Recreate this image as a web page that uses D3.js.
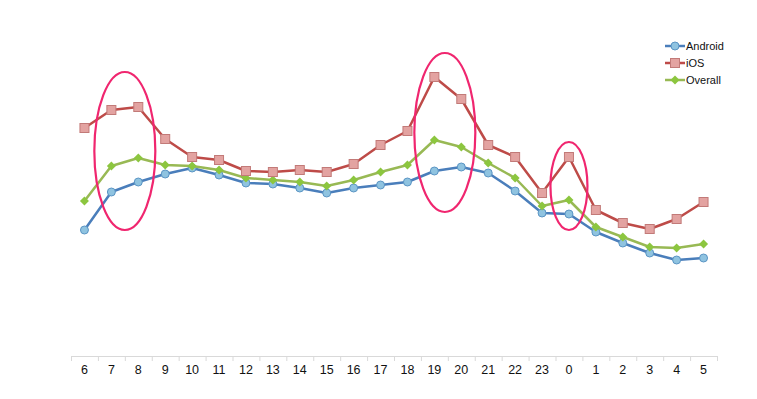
<!DOCTYPE html>
<html>
<head>
<meta charset="utf-8">
<script src="https://cdn.jsdelivr.net/npm/d3@7"></script>
<style>
  body { margin: 0; background: #fff; }
  svg { font-family: "Liberation Sans", Arial, sans-serif; }
</style>
</head>
<body>
<div id="canvas"></div>
<script>
// hours of the day, starting at 6
const hours = ["6","7","8","9","10","11","12","13","14","15","16","17","18","19","20","21","22","23","0","1","2","3","4","5"];

// values (arbitrary units)
const android = [126, 164, 174, 182, 188, 181, 173, 172, 168, 163, 168, 171, 174, 185, 189, 183, 165, 143, 142, 124, 113, 103, 96, 98];
const ios     = [228, 246, 249, 217, 199, 196, 185, 184, 186, 184, 192, 211, 225, 279, 257, 211, 199, 163, 199, 146, 133, 127, 137, 154];
const overall = [155, 190, 198, 191, 190, 186, 178, 176, 174, 170, 176, 184, 191, 216, 209, 193, 178, 150, 156, 129, 119, 109, 108, 112];

const seriesNames = ["Android", "iOS", "Overall"];

// highlighted ranges: [first hour, last hour, low value, high value]
const highlights = [
  ["7", "8", 126, 284],
  ["19", "20", 144, 303],
  ["0", "0", 126, 214]
];

const width = 757;
const height = 399;
const margin = { top: 56, left: 71, bottom: 43, right: 40 };
const iwidth = width - margin.left - margin.right;
const iheight = height - margin.top - margin.bottom;

const svg = d3.select("#canvas").append("svg")
    .attr("width", width)
    .attr("height", height);

const g = svg.append("g").attr("transform", `translate(${margin.left},${margin.top})`);

const x = d3.scaleBand()
    .domain(hours)
    .range([0, 646]);

const y = d3.scaleLinear()
    .domain([0, 300])
    .range([iheight, 0]);

const cx = d => x(d) + x.bandwidth() / 2;

// x axis
const xAxis = g.append("g")
    .attr("transform", `translate(0, ${iheight})`)
    .call(d3.axisBottom(x).tickSize(0).tickPadding(9));
xAxis.select(".domain").attr("stroke", "#d9d9d9");
xAxis.selectAll("text").attr("font-size", 12.5).attr("fill", "#111");

// tick marks between categories
g.append("g").selectAll("line")
    .data(hours.concat(["end"]))
    .enter().append("line")
    .attr("x1", (d, i) => i * x.step() + 0.5)
    .attr("x2", (d, i) => i * x.step() + 0.5)
    .attr("y1", iheight)
    .attr("y2", iheight + 5)
    .attr("stroke", "#d9d9d9");

const styles = {
  Android: { line: "#4a7ebb", fill: "#8fc3e0", stroke: "#5b95c4", shape: "circle" },
  iOS:     { line: "#be4b48", fill: "#e3a3a1", stroke: "#c27a78", shape: "square" },
  Overall: { line: "#98b954", fill: "#8cc63f", stroke: "#8cc63f", shape: "diamond" }
};

const data = [android, ios, overall];

const line = d3.line()
    .x((d, i) => cx(hours[i]))
    .y(d => y(d));

function marker(sel, name) {
  const s = styles[name];
  if (s.shape === "circle") {
    sel.append("circle").attr("r", 4)
      .attr("fill", s.fill).attr("stroke", s.stroke).attr("stroke-width", 1);
  } else if (s.shape === "square") {
    sel.append("rect").attr("x", -4.5).attr("y", -4.5).attr("width", 9).attr("height", 9)
      .attr("fill", s.fill).attr("stroke", s.stroke).attr("stroke-width", 1);
  } else {
    sel.append("path").attr("d", "M0,-4.5L4.5,0L0,4.5L-4.5,0Z")
      .attr("fill", s.fill);
  }
}

// draw Android first, then Overall, then iOS on top
[0, 2, 1].forEach(k => {
  const name = seriesNames[k];
  g.append("path")
    .datum(data[k])
    .attr("fill", "none")
    .attr("stroke", styles[name].line)
    .attr("stroke-width", 2.5)
    .attr("stroke-linejoin", "round")
    .attr("d", line);
  g.append("g").selectAll("g")
    .data(data[k])
    .enter().append("g")
    .attr("transform", (d, i) => `translate(${cx(hours[i])},${y(d)})`)
    .each(function () { marker(d3.select(this), name); });
});

// highlight ellipses
g.append("g").selectAll("ellipse")
  .data(highlights)
  .enter().append("ellipse")
  .attr("cx", d => (cx(d[0]) + cx(d[1])) / 2 + (d[0] === "19" ? -3 : 0))
  .attr("cy", d => (y(d[2]) + y(d[3])) / 2)
  .attr("rx", d => d[0] === d[1] ? 18.5 : 30.5)
  .attr("ry", d => (y(d[2]) - y(d[3])) / 2)
  .attr("fill", "none")
  .attr("stroke", "#f0266f")
  .attr("stroke-width", 2.2);

// legend
const legend = svg.append("g").attr("transform", "translate(665, 46)");
seriesNames.forEach((name, i) => {
  const row = legend.append("g").attr("transform", `translate(0, ${i * 17})`);
  row.append("line").attr("x1", 0).attr("x2", 20).attr("y1", 0).attr("y2", 0)
    .attr("stroke", styles[name].line).attr("stroke-width", 2.5);
  const m = row.append("g").attr("transform", "translate(10,0)");
  marker(m, name);
  row.append("text").attr("x", 21).attr("y", 4)
    .attr("font-size", 11).attr("fill", "#111").text(name);
});
</script>
</body>
</html>
